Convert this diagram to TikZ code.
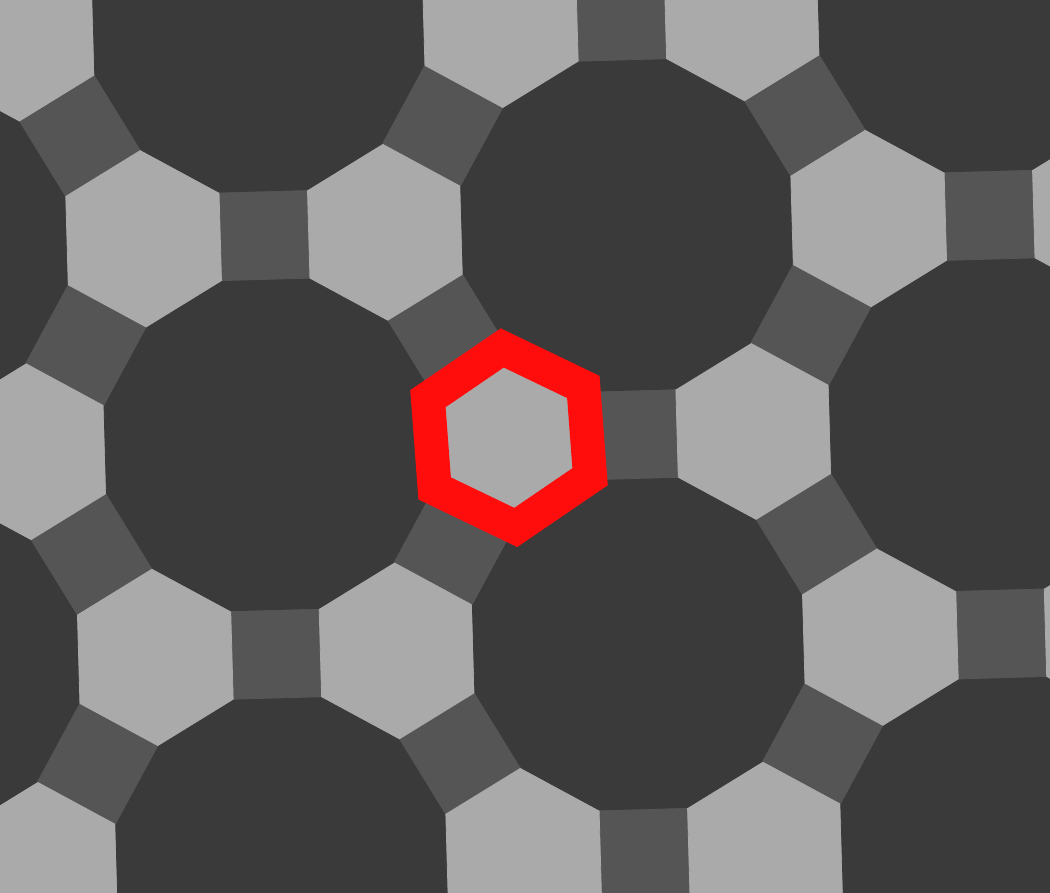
\documentclass[tikz,border=0pt]{standalone}
\usetikzlibrary{calc}

\definecolor{dodecgray}{HTML}{3A3A3A}
\definecolor{squaregray}{HTML}{555555}
\definecolor{hexgray}{HTML}{AAAAAA}
\definecolor{ringred}{HTML}{FF0C0C}

\newcommand{\tilerot}{1.6}
\newcommand{\cellgap}{418.8}

\begin{document}
\begin{tikzpicture}[
		x=1pt, y=1pt,
		dodec/.style={fill=dodecgray, draw=dodecgray, line width=0.8pt},
		quad/.style={fill=squaregray, draw=squaregray, line width=0.8pt},
		hexa/.style={fill=hexgray, draw=hexgray, line width=0.8pt},
		ring/.style={draw=ringred, line width=34pt, line join=miter}
	]

	\useasboundingbox (0,0) rectangle (1050,892);
	\clip (0,0) rectangle (1050,892);
	\fill[dodecgray] (0,0) rectangle (1050,892);

	% Tiles
	\foreach \i in {-3,...,3} {
		\foreach \j in {-3,...,3} {
			\begin{scope}[shift={(627,667)}, shift={(90+\tilerot:\i*\cellgap)}, shift={(30+\tilerot:\j*\cellgap)}, rotate=\tilerot]
				\path[dodec] (15:171) \foreach \k in {1,...,11} { -- (15+\k*30:171) } -- cycle;
				\foreach \dir in {90,30,-30} {
					\begin{scope}[shift={(\dir:209.4)}]
						\path[quad] (\dir+45:62.6) -- (\dir+135:62.6) -- (\dir+225:62.6) -- (\dir+315:62.6) -- cycle;
					\end{scope}
				}
				\foreach \dir in {0,60} {
					\begin{scope}[shift={(\dir:241.8)}]
						\path[hexa] (30:88.5) \foreach \k in {1,...,5} { -- (30+\k*60:88.5) } -- cycle;
					\end{scope}
				}
			\end{scope}
		}
	}

	% Highlight
	\coordinate (hub) at (509,454.3);
	\begin{scope}[shift={(hub)}, rotate=4.3]
		\draw[ring] (30:90) \foreach \k in {1,...,5} { -- (30+\k*60:90) } -- cycle;
	\end{scope}

\end{tikzpicture}
\end{document}
